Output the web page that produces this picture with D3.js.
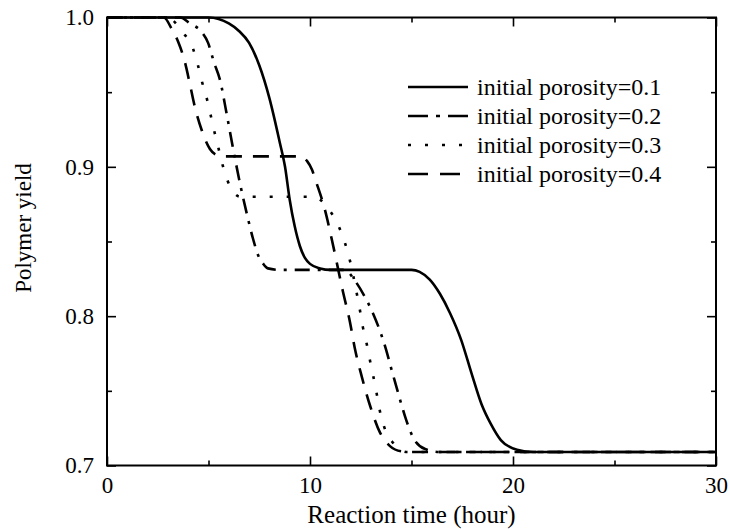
<!DOCTYPE html>
<html>
<head>
<meta charset="utf-8">
<script src="https://cdn.jsdelivr.net/npm/d3@7"></script>
<style>
  body { margin: 0; background: #fff; }
  text { font-family: "Liberation Serif", "Times New Roman", serif; fill: #000; }
</style>
</head>
<body>
<script>
var w = 730;
var h = 529;

// [time (hour), polymer yield]
var porosity01 = [[0,1.0],[5.0,1.0],[5.5,0.999],[6.0,0.996],[6.5,0.991],[7.0,0.983],[7.5,0.968],
  [8.0,0.946],[8.5,0.917],[8.77,0.9],[9.0,0.878],[9.25,0.86],[9.5,0.847],[9.75,0.839],[10,0.835],
  [10.5,0.832],[11,0.831],[15,0.831],[15.4,0.8297],[15.9,0.8245],[16.4,0.815],[16.9,0.802],
  [17.45,0.784],[17.95,0.762],[18.45,0.741],[18.9,0.728],[19.4,0.717],[20.2,0.7105],[21,0.709],[30,0.709]];

var porosity02 = [[0,1.0],[3.6,1.0],[4.09,0.996],[4.68,0.99],[4.98,0.983],[5.27,0.97],[5.57,0.958],
  [5.9,0.935],[6.2,0.913],[6.55,0.889],[6.95,0.865],[7.19,0.852],
  [7.44,0.841],[7.7,0.835],[7.93,0.832],[8.5,0.831],[11.7,0.831],[12.2,0.824],[12.7,0.813],[13.1,0.802],
  [13.45,0.79],[13.74,0.778],[14.0,0.765],[14.25,0.753],[14.5,0.741],[14.75,0.73],[15.07,0.719],
  [15.67,0.711],[16.4,0.709],[30,0.709]];

var porosity03 = [[0,1.0],[3.0,1.0],[3.4,0.996],[3.74,0.99],[4.24,0.979],[4.48,0.968],[4.68,0.957],
  [4.93,0.945],[5.1,0.935],[5.3,0.923],[5.5,0.912],[5.7,0.901],[5.96,0.89],[6.3,0.882],[6.55,0.88],
  [10.2,0.88],[10.5,0.878],[10.9,0.872],[11.45,0.859],[11.97,0.837],[12.3,0.8155],[12.46,0.804],
  [12.6,0.793],[12.8,0.781],[12.96,0.77],[13.13,0.759],[13.3,0.747],[13.45,0.736],[13.65,0.726],
  [14.1,0.715],[14.8,0.709],[30,0.709]];

var porosity04 = [[0,1.0],[2.8,1.0],[3.2,0.992],[3.5,0.984],[3.84,0.97],[4.09,0.955],[4.33,0.94],
  [4.68,0.924],[5.07,0.912],[5.4,0.908],[5.8,0.907],[9.5,0.907],[9.85,0.904],[10.1,0.898],[10.3,0.89],
  [10.74,0.871],[11.08,0.851],[11.63,0.816],[11.97,0.796],[12.2,0.779],[12.56,0.759],[12.96,0.74],
  [13.45,0.722],[13.94,0.713],[14.5,0.7095],[15,0.709],[30,0.709]];

var legendLabels = ["initial porosity=0.1", "initial porosity=0.2", "initial porosity=0.3", "initial porosity=0.4"];
var xTicks = [0, 10, 20, 30];
var xMinor = [5, 15, 25];
var yTicks = [0.7, 0.8, 0.9, 1.0];
var yMinor = [0.75, 0.85, 0.95];

var series = [porosity01, porosity02, porosity03, porosity04];
var dashes = [null, "15,8,3,8", "3,14", "16,11"];
var legendDashes = [null, "20,8,4,8", "3,14", "20,12"];

var pLeft = 107, pRight = 716, pTop = 17.5, pBottom = 465.5;

var svg = d3.select("body").append("svg")
    .attr("width", w)
    .attr("height", h);

var xScale = d3.scaleLinear().domain([0, 30]).range([pLeft, pRight]);
var yScale = d3.scaleLinear().domain([0.7, 1.0]).range([pBottom, pTop]);

var line = d3.line()
    .x(function(d) { return xScale(d[0]); })
    .y(function(d) { return yScale(d[1]); })
    .curve(d3.curveMonotoneX);

svg.append("g").selectAll("path")
    .data(series)
    .enter()
    .append("path")
    .attr("d", line)
    .attr("fill", "none")
    .attr("stroke", "#000")
    .attr("stroke-width", 2.6)
    .attr("stroke-dasharray", function(d, i) { return dashes[i]; });

// axes: ticks pointing inward on all four sides
function tickAxis(axisFn, scale, ticks, size, fmt) {
  return axisFn(scale).tickValues(ticks).tickSize(size).tickSizeOuter(0).tickFormat(fmt);
}
var none = function() { return ""; };

var gx = svg.append("g").attr("transform", "translate(0," + pBottom + ")")
    .call(tickAxis(d3.axisBottom, xScale, xTicks, -9, d3.format("d")));
gx.selectAll("text").attr("y", 11).attr("dy", "0.71em").style("font-size", "23px");
svg.append("g").attr("transform", "translate(0," + pBottom + ")")
    .call(tickAxis(d3.axisBottom, xScale, xMinor, -5, none));

svg.append("g").attr("transform", "translate(0," + pTop + ")")
    .call(tickAxis(d3.axisTop, xScale, xTicks, -9, none));
svg.append("g").attr("transform", "translate(0," + pTop + ")")
    .call(tickAxis(d3.axisTop, xScale, xMinor, -5, none));

var gy = svg.append("g").attr("transform", "translate(" + pLeft + ",0)")
    .call(tickAxis(d3.axisLeft, yScale, yTicks, -9, d3.format(".1f")));
gy.selectAll("text").attr("x", -13).style("font-size", "23px");
svg.append("g").attr("transform", "translate(" + pLeft + ",0)")
    .call(tickAxis(d3.axisLeft, yScale, yMinor, -5, none));

svg.append("g").attr("transform", "translate(" + pRight + ",0)")
    .call(tickAxis(d3.axisRight, yScale, yTicks, -9, none));
svg.append("g").attr("transform", "translate(" + pRight + ",0)")
    .call(tickAxis(d3.axisRight, yScale, yMinor, -5, none));

svg.selectAll(".domain").remove();
svg.selectAll(".tick line").attr("stroke", "#000").attr("stroke-width", 1.6);

svg.append("rect")
    .attr("x", pLeft).attr("y", pTop)
    .attr("width", pRight - pLeft).attr("height", pBottom - pTop)
    .attr("fill", "none").attr("stroke", "#000").attr("stroke-width", 2);

svg.append("text")
    .attr("x", (pLeft + pRight) / 2)
    .attr("y", 523)
    .attr("text-anchor", "middle")
    .style("font-size", "25px")
    .text("Reaction time (hour)");

svg.append("text")
    .attr("transform", "translate(31,228) rotate(-90)")
    .attr("text-anchor", "middle")
    .style("font-size", "23px")
    .text("Polymer yield");

// legend
var lg = svg.append("g").selectAll("g")
    .data(legendLabels)
    .enter()
    .append("g")
    .attr("transform", function(d, i) { return "translate(408," + (87 + i * 29) + ")"; });

lg.append("line")
    .attr("x1", 0).attr("x2", 60)
    .attr("y1", 0).attr("y2", 0)
    .attr("stroke", "#000")
    .attr("stroke-width", 2.6)
    .attr("stroke-dasharray", function(d, i) { return legendDashes[i]; });

lg.append("text")
    .attr("x", 69)
    .attr("dy", "0.33em")
    .style("font-size", "24px")
    .text(function(d) { return d; });
</script>
</body>
</html>
